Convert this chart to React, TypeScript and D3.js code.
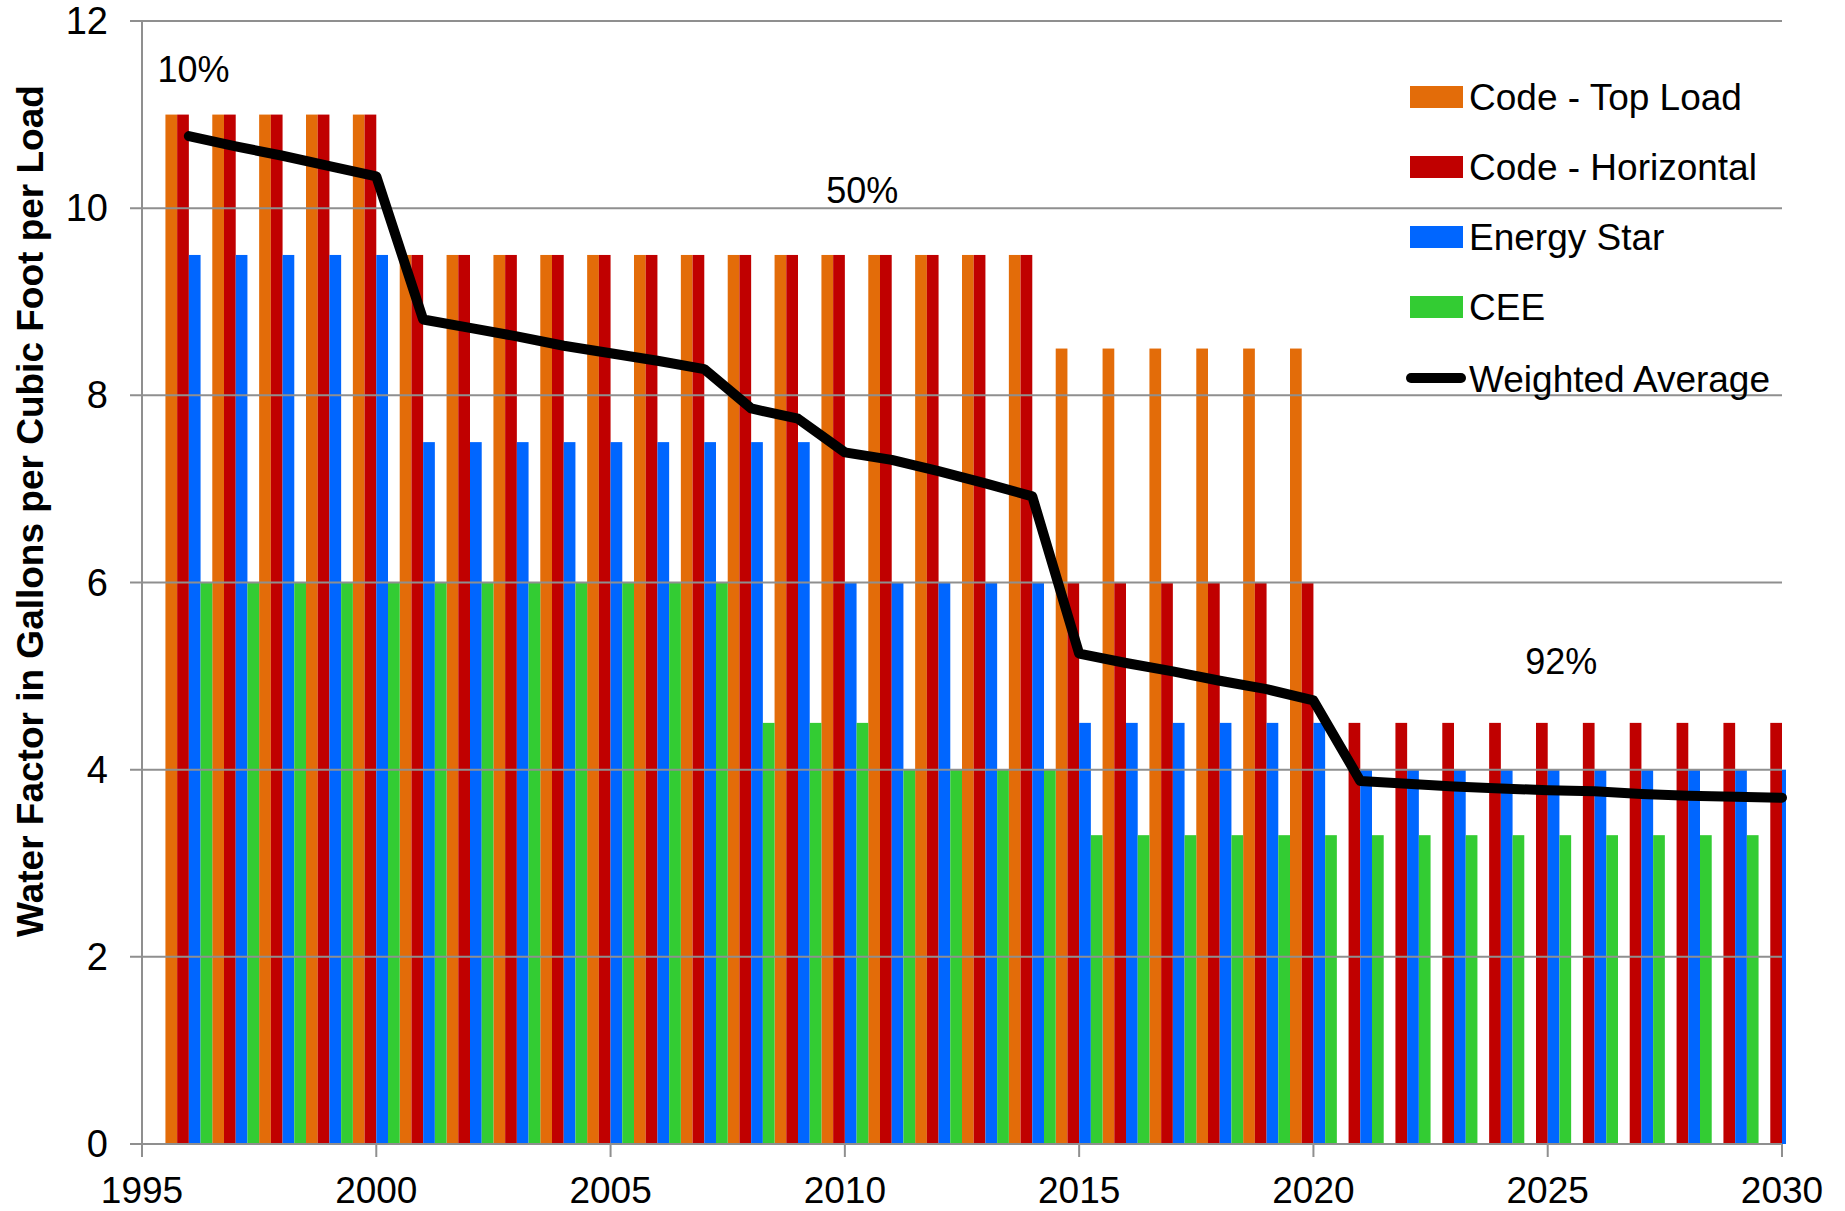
import React from "react";
import * as d3 from "d3";

const years = [1996, 1997, 1998, 1999, 2000, 2001, 2002, 2003, 2004, 2005, 2006, 2007, 2008, 2009, 2010, 2011, 2012, 2013, 2014, 2015, 2016, 2017, 2018, 2019, 2020, 2021, 2022, 2023, 2024, 2025, 2026, 2027, 2028, 2029, 2030];

const codeTopLoad = [11, 11, 11, 11, 11, 9.5, 9.5, 9.5, 9.5, 9.5, 9.5, 9.5, 9.5, 9.5, 9.5, 9.5, 9.5, 9.5, 9.5, 8.5, 8.5, 8.5, 8.5, 8.5, 8.5, 0, 0, 0, 0, 0, 0, 0, 0, 0, 0];
const codeHorizontal = [11, 11, 11, 11, 11, 9.5, 9.5, 9.5, 9.5, 9.5, 9.5, 9.5, 9.5, 9.5, 9.5, 9.5, 9.5, 9.5, 9.5, 6, 6, 6, 6, 6, 6, 4.5, 4.5, 4.5, 4.5, 4.5, 4.5, 4.5, 4.5, 4.5, 4.5];
const energyStar = [9.5, 9.5, 9.5, 9.5, 9.5, 7.5, 7.5, 7.5, 7.5, 7.5, 7.5, 7.5, 7.5, 7.5, 6, 6, 6, 6, 6, 4.5, 4.5, 4.5, 4.5, 4.5, 4.5, 4, 4, 4, 4, 4, 4, 4, 4, 4, 4];
const cee = [6, 6, 6, 6, 6, 6, 6, 6, 6, 6, 6, 6, 4.5, 4.5, 4.5, 4, 4, 4, 4, 3.3, 3.3, 3.3, 3.3, 3.3, 3.3, 3.3, 3.3, 3.3, 3.3, 3.3, 3.3, 3.3, 3.3, 3.3, 3.3];
const weightedAverage = [10.77, 10.66, 10.56, 10.45, 10.34, 8.81, 8.72, 8.63, 8.53, 8.45, 8.37, 8.28, 7.86, 7.75, 7.39, 7.31, 7.19, 7.06, 6.92, 5.24, 5.14, 5.05, 4.95, 4.86, 4.74, 3.88, 3.85, 3.82, 3.8, 3.78, 3.77, 3.74, 3.72, 3.71, 3.7];

const seriesNames = ["Code - Top Load", "Code - Horizontal", "Energy Star", "CEE"];
const seriesColors = ["#E36C09", "#C00000", "#0066FF", "#33CC33"];
const lineName = "Weighted Average";

const yTicks = [0, 2, 4, 6, 8, 10, 12];
const xTicks = [1995, 2000, 2005, 2010, 2015, 2020, 2025, 2030];

const annotations = [
  { text: "10%", year: 1996.1, value: 11.35 },
  { text: "50%", year: 2010.37, value: 10.05 },
  { text: "92%", year: 2025.29, value: 5.02 },
];

const W = 1845;
const H = 1211;
const FONT = "'Liberation Sans', Arial, Helvetica, sans-serif";

export default function App() {
  const x = d3.scaleLinear().domain([1995, 2030]).range([142, 1782]);
  const y = d3.scaleLinear().domain([0, 12]).range([1144, 21]);
  const allSeries = [codeTopLoad, codeHorizontal, energyStar, cee];
  const bw = x(1995.25) - x(1995);
  const line = d3
    .line<number>()
    .x((_, i) => x(years[i]))
    .y((v) => y(v));

  const legendRows = [97, 167, 237, 307, 378];
  const grid = "#8f8f8f";

  return (
    <svg
      width={W}
      height={H}
      style={{ position: "absolute", left: 0, top: 0, background: "#fff" }}
      fontFamily={FONT}
    >
      <defs>
        <clipPath id="plotClip">
          <rect x={x(1995)} y={0} width={x(2030) - x(1995) + 4} height={y(0)} />
        </clipPath>
      </defs>
      <rect x={0} y={0} width={W} height={H} fill="#fff" />

      <g clipPath="url(#plotClip)">
        {allSeries.map((s, k) =>
          s.map((v, i) =>
            v > 0 ? (
              <rect
                key={`b${k}-${i}`}
                x={x(years[i] - 0.5 + k * 0.25)}
                y={y(v)}
                width={bw}
                height={y(0) - y(v)}
                fill={seriesColors[k]}
              />
            ) : null
          )
        )}
      </g>

      {yTicks.map((t) => (
        <g key={`g${t}`}>
          <line x1={130} x2={x(2030)} y1={y(t)} y2={y(t)} stroke={grid} strokeWidth={2} />
          <text x={108} y={y(t) + 13} fontSize={38} textAnchor="end" fill="#000">
            {t}
          </text>
        </g>
      ))}
      <line x1={x(1995)} x2={x(1995)} y1={y(12)} y2={y(0) + 13} stroke={grid} strokeWidth={2} />
      {xTicks.map((t) => (
        <g key={`x${t}`}>
          <line x1={x(t)} x2={x(t)} y1={y(0)} y2={y(0) + 13} stroke={grid} strokeWidth={2} />
          <text x={x(t)} y={1203} fontSize={37} textAnchor="middle" fill="#000">
            {t}
          </text>
        </g>
      ))}

      <path
        d={line(weightedAverage) || ""}
        fill="none"
        stroke="#000"
        strokeWidth={10}
        strokeLinejoin="round"
        strokeLinecap="round"
      />

      {annotations.map((a) => (
        <text key={a.text} x={x(a.year)} y={y(a.value)} fontSize={36} textAnchor="middle" fill="#000">
          {a.text}
        </text>
      ))}

      <text
        transform={`translate(43, 511) rotate(-90)`}
        fontSize={37}
        fontWeight="bold"
        textAnchor="middle"
        fill="#000"
      >
        Water Factor in Gallons per Cubic Foot per Load
      </text>

      {seriesNames.map((n, k) => (
        <g key={n}>
          <rect x={1410} y={legendRows[k] - 11} width={53} height={22} fill={seriesColors[k]} />
          <text x={1469} y={legendRows[k] + 13} fontSize={37} fill="#000">
            {n}
          </text>
        </g>
      ))}
      <line
        x1={1411}
        x2={1461}
        y1={legendRows[4]}
        y2={legendRows[4]}
        stroke="#000"
        strokeWidth={10}
        strokeLinecap="round"
      />
      <text x={1469} y={legendRows[4] + 14} fontSize={37} fill="#000">
        {lineName}
      </text>
    </svg>
  );
}
